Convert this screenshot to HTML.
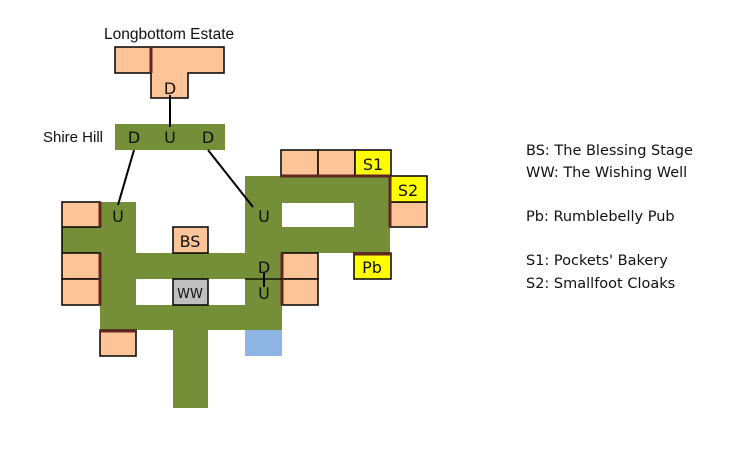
<!DOCTYPE html>
<html><head><meta charset="utf-8"><style>
html,body{margin:0;padding:0;background:#fff;}
svg{display:block;}
.m{font-family:"DejaVu Sans","Liberation Sans",sans-serif;font-size:16px;fill:#111;}
.a{font-family:"Liberation Sans",sans-serif;fill:#111;}
</style></head><body>
<svg width="751" height="449" viewBox="0 0 751 449" xmlns="http://www.w3.org/2000/svg">
<g fill="#748f37">
<rect x="115" y="124" width="110" height="26"/>
<rect x="100" y="202" width="36" height="128"/>
<rect x="62" y="227" width="38" height="26"/>
<rect x="136" y="253" width="146" height="26"/>
<rect x="100" y="305" width="182" height="25"/>
<rect x="173" y="330" width="35" height="78"/>
<rect x="245" y="176" width="37" height="154"/>
<rect x="245" y="176" width="145" height="27"/>
<rect x="354" y="176" width="36" height="77"/>
<rect x="245" y="227" width="145" height="26"/>
</g>
<line x1="62" y1="227" x2="62" y2="253" stroke="#000" stroke-width="1.5"/>
<g stroke="#000" stroke-width="1.5" fill="#fdc597">
<path d="M115 47H224V73H188V98H151V73H115Z"/>
<rect x="62" y="202" width="38" height="25"/>
<rect x="62" y="253" width="38" height="26"/>
<rect x="62" y="279" width="38" height="26"/>
<rect x="173" y="227" width="35" height="26"/>
<rect x="100" y="330" width="36" height="26"/>
<rect x="282" y="253" width="36" height="26"/>
<rect x="282" y="279" width="36" height="26"/>
<rect x="281" y="150" width="37" height="26"/>
<rect x="318" y="150" width="37" height="26"/>
<rect x="390" y="202" width="37" height="25"/>
<rect x="173" y="279" width="35" height="26" fill="#c0c0c0"/>
<rect x="355" y="150" width="36" height="26" fill="#ffff00"/>
<rect x="390" y="176" width="37" height="26" fill="#ffff00"/>
<rect x="354" y="253" width="37" height="26" fill="#ffff00"/>
</g>
<rect x="245" y="330" width="37" height="26" fill="#8db4e2"/>
<g stroke="#632523" stroke-width="3">
<line x1="151" y1="47" x2="151" y2="73"/>
<line x1="100" y1="202" x2="100" y2="227"/>
<line x1="100" y1="253" x2="100" y2="305"/>
<line x1="100" y1="331" x2="136" y2="331"/>
<line x1="282" y1="253" x2="282" y2="305"/>
<line x1="281" y1="176" x2="391" y2="176"/>
<line x1="390" y1="176" x2="390" y2="227"/>
<line x1="354" y1="254" x2="391" y2="254"/>
</g>
<g stroke="#000" stroke-width="2">
<line x1="170" y1="95" x2="170" y2="127"/>
<line x1="134" y1="150" x2="118" y2="205"/>
<line x1="208" y1="150" x2="253" y2="207"/>
<line x1="264" y1="273" x2="264" y2="287"/>
</g>
<line x1="245" y1="279" x2="282" y2="279" stroke="#000" stroke-width="1.2"/>
<g class="m" text-anchor="middle">
<text x="170" y="94">D</text>
<text x="134" y="143">D</text><text x="170" y="143">U</text><text x="208" y="143">D</text>
<text x="118" y="222">U</text><text x="264" y="222">U</text>
<text x="264" y="273">D</text><text x="264" y="299">U</text>
<text x="190" y="247">BS</text><text x="190" y="298" font-size="13">WW</text>
<text x="373" y="170">S1</text><text x="408" y="196">S2</text><text x="372" y="273">Pb</text>
</g>
<text class="a" x="104" y="39" font-size="15.5">Longbottom Estate</text>
<text class="a" x="43" y="142" font-size="15">Shire Hill</text>
<g class="m" font-size="14.5">
<text x="526" y="155" font-size="14.5">BS: The Blessing Stage</text>
<text x="526" y="177" font-size="14.5">WW: The Wishing Well</text>
<text x="526" y="221" font-size="14.5">Pb: Rumblebelly Pub</text>
<text x="526" y="265" font-size="14.5">S1: Pockets' Bakery</text>
<text x="526" y="288" font-size="14.5">S2: Smallfoot Cloaks</text>
</g>
</svg>
</body></html>
